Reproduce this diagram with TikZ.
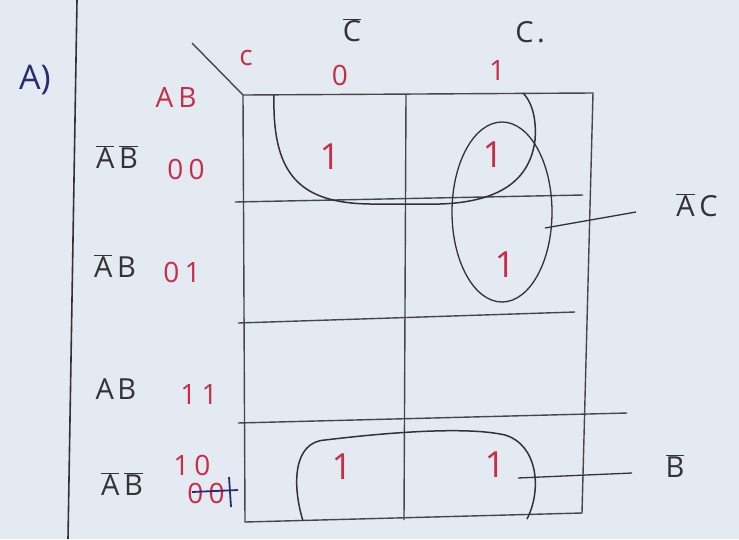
\documentclass[tikz,border=0pt]{standalone}
\usepackage{fontspec}
\usetikzlibrary{shapes.geometric}
\setmainfont{Open Sans}
\definecolor{bg}{RGB}{228,234,241}
\definecolor{ink}{RGB}{50,50,55}
\definecolor{rink}{RGB}{200,45,70}
\definecolor{bink}{RGB}{40,45,115}
\newcommand\olbar[1]{$\overline{\mbox{#1}}$}
\begin{document}
\begin{tikzpicture}[x=1pt,y=-1pt,
  gridline/.style={draw=ink!90, line width=1.4pt},
  grouploop/.style={draw=ink, line width=1.5pt},
  btxt/.style={text=ink, font=\fontsize{29}{31}\selectfont\addfontfeature{LetterSpace=12}, inner sep=0pt},
  rtxt/.style={text=rink, font=\fontsize{28}{30}\selectfont\addfontfeature{LetterSpace=18}, inner sep=0pt},
  cellone/.style={text=rink, font=\fontsize{36}{38}\selectfont, inner sep=0pt}]
\useasboundingbox[fill=bg] (0,0) rectangle (739,539);
% margin line
\coordinate (m0) at (77,0);
\coordinate (m1) at (68,539);
\draw[ink, line width=1.6pt] (m0) -- (m1);
\node[text=bink, font=\fontsize{34}{36}\selectfont, inner sep=0pt] (title) at (35,80) {A)};
% grid corners
\coordinate (tl) at (243,95);
\coordinate (tr) at (593,93);
\coordinate (bl) at (245,522);
\coordinate (br) at (582,513);
\coordinate (tm) at (406,95);
\coordinate (bm) at (404,520);
\coordinate (h1a) at (235,202); \coordinate (h1b) at (583,195);
\coordinate (h2a) at (238,323); \coordinate (h2b) at (575,312);
\coordinate (h3a) at (238,423); \coordinate (h3b) at (627,413);
\coordinate (diag) at (192,43);
\draw[gridline] (diag) -- (tl);
\draw[gridline] (tl) -- (tr) -- (br) -- (bl) -- cycle;
\draw[gridline] (tm) -- (bm);
\draw[gridline] (h1a) -- (h1b);
\draw[gridline] (h2a) -- (h2b);
\draw[gridline] (h3a) -- (h3b);
% headers
\node[rtxt] (lc) at (246,58) {c};
\node[rtxt] (lab) at (176,97) {AB};
\node[btxt] (cbar) at (352,30) {\olbar{C}};
\node[btxt] (cpl) at (530,32) {C.};
\node[rtxt] (c0) at (340,75) {0};
\node[rtxt] (c1) at (497,71) {1};
% row labels
\node[btxt] (r1) at (117,157) {\olbar{A}\,\olbar{B}};
\node[rtxt] (r1v) at (186,169) {00};
\node[btxt] (r2) at (115,266) {\olbar{A}\,B};
\node[rtxt] (r2v) at (182,272) {01};
\node[btxt] (r3) at (116,389) {AB};
\node[rtxt] (r3v) at (199,394) {11};
\node[btxt] (r4) at (122,484) {\olbar{A}\,\olbar{B}};
\node[rtxt] (r4v) at (192,465) {10};
\node[rtxt] (r4x) at (206,493) {00};
\coordinate (s1) at (192,492); \coordinate (s2) at (238,490);
\coordinate (s3) at (229,477); \coordinate (s4) at (231,507);
\draw[bink, line width=1.8pt] (s1) -- (s2);
\draw[bink, line width=1.8pt] (s3) -- (s4);
% cell values
\node[cellone] (v1) at (330,157) {1};
\node[cellone] (v2) at (493,155) {1};
\node[cellone] (v3) at (505,265) {1};
\node[cellone] (v4) at (342,467) {1};
\node[cellone] (v5) at (495,465) {1};
% top row group
\coordinate (ta) at (274,95);
\coordinate (tb) at (523,93);
\draw[grouploop] (ta) .. controls (272,175) and (300,203) .. (370,204)
  -- (440,204) .. controls (500,202) and (530,180) .. (535,140)
  .. controls (537,115) and (530,100) .. (tb);
% tall ellipse group
\node[draw=ink, line width=1.3pt, ellipse, minimum width=100pt, minimum height=180pt, inner sep=0pt] (eg) at (502,212) {};
% bottom group
\coordinate (ba) at (303,521);
\coordinate (bb) at (527,519);
\draw[grouploop] (ba) .. controls (292,485) and (293,442) .. (325,440)
  .. controls (400,431) and (470,427) .. (505,435)
  .. controls (538,445) and (542,490) .. (bb);
% labels for groups
\node[btxt] (lac) at (697,205) {\olbar{A}\,C};
\node[btxt] (lb) at (675,466) {\olbar{B}};
\coordinate (ac0) at (545,228); \coordinate (ac1) at (636,212);
\coordinate (b0) at (518,478); \coordinate (b1) at (632,473);
\draw[ink, line width=1.3pt] (ac0) -- (ac1);
\draw[ink, line width=1.3pt] (b0) -- (b1);
\end{tikzpicture}
\end{document}
